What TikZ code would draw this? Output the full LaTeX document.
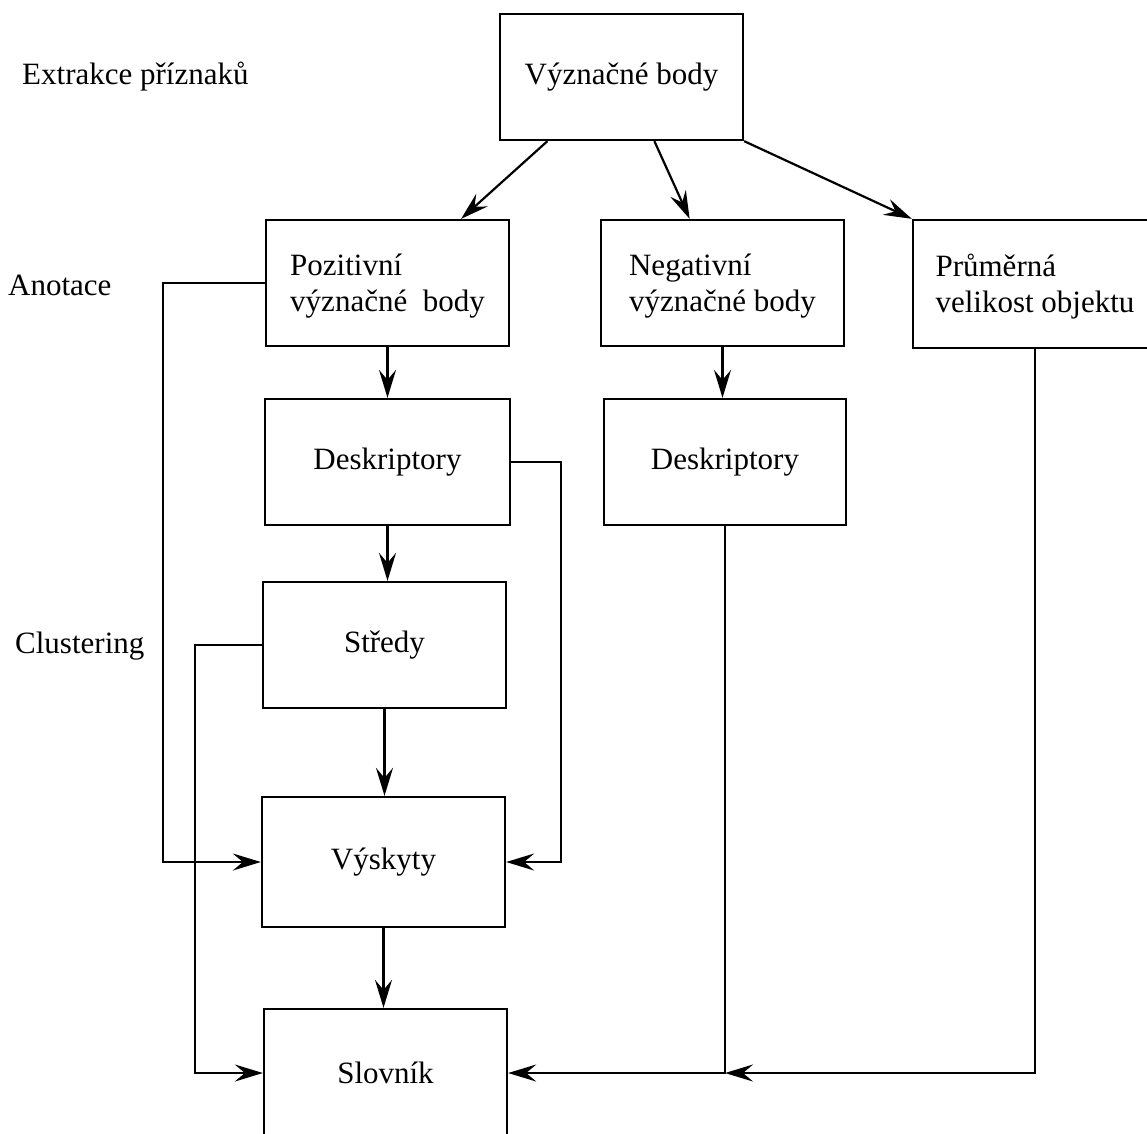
\documentclass[tikz,border=0pt]{standalone}
\usepackage{fontspec}
\setmainfont{Liberation Serif}
\usetikzlibrary{arrows.meta,calc}

% a little extra head room above the first line of two-line boxes
\newcommand{\headroom}{\rule{0pt}{27.5pt}}

\begin{document}
\begin{tikzpicture}[x=1pt,y=-1pt,
  every node/.style={font=\fontsize{31}{36}\selectfont},
  box/.style={draw,line width=2.3pt,rectangle,minimum width=243pt,minimum height=126pt,
              align=left,inner sep=0pt},
  stagelabel/.style={anchor=west,inner sep=0pt},
  flow/.style={line width=2.2pt,-{Stealth[length=28pt,width=17pt,inset=10pt]}}]

\clip (0,0) rectangle (1147,1133);

% stage labels
\node[stagelabel] (lext) at (22,77)  {Extrakce příznaků};
\node[stagelabel] (lano) at (8,285)  {Anotace};
\node[stagelabel] (lclu) at (15,646) {Clustering};

% boxes
\node[box] (top)  at (621.5,77)  {Význačné body};
\node[box] (pos)  at (387.5,283) {\headroom Pozitivní\\význačné\ \ body};
\node[box] (neg)  at (722.5,283) {\headroom Negativní\\význačné body};
\node[box,minimum width=244pt,minimum height=128pt] (avg) at (1035,284) {\headroom Průměrná\\velikost objektu};
\node[box,minimum width=245pt] (desL) at (387.5,462) {Deskriptory};
\node[box,minimum width=242pt] (desR) at (725,462)   {Deskriptory};
\node[box] (str)  at (384.5,645) {Středy};
\node[box,minimum height=130pt] (vys) at (383.5,862) {Výskyty};
\node[box,minimum height=128pt] (slo) at (385.5,1073) {Slovník};

% junction where the two right-hand feeds meet
\coordinate (jn) at (desR.south |- slo.east);

% fan-out from the keypoints
\draw[flow] ($(top.south west)!0.198!(top.south east)$) -- ($(pos.north west)!0.80!(pos.north east)$);
\draw[flow] ($(top.south west)!0.634!(top.south east)$) -- ($(neg.north west)!0.366!(neg.north east)$);
\draw[flow] (top.south east) -- (avg.north west);

% vertical chain
\draw[flow] (pos.south) -- (pos.south |- desL.north);
\draw[flow] (neg.south) -- (neg.south |- desR.north);
\draw[flow] (desL.south) -- (desL.south |- str.north);
\draw[flow] (str.south) -- (str.south |- vys.north);
\draw[flow] (vys.south) -- (vys.south |- slo.north);

% side feeds
\draw[flow] (pos.west) -- ++(-102,0) |- (vys.west);
\draw[flow] (desL.east) -- ++(50,0) |- (vys.east);
\draw[flow] (str.west) -- ++(-67,0) |- (slo.west);
\draw[flow] (desR.south) -- (jn) -- (slo.east);
\draw[flow] (avg.south) |- (jn);

\end{tikzpicture}
\end{document}
